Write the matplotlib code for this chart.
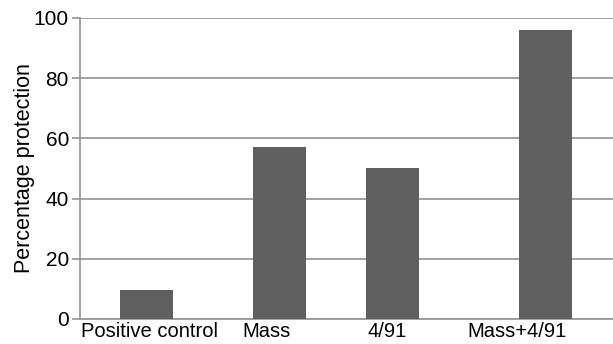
import matplotlib.pyplot as plt

plt.rcParams['font.family'] = ['Liberation Sans', 'DejaVu Sans']

groups = ["Positive control", "Mass", "4/91", "Mass+4/91"]
protection = [9.6, 57.1, 50.2, 96.1]

# bar and label placement (the original spacing is uneven)
bar_pos = [0, 1, 1.85, 3]
label_pos = [0.02, 0.9, 1.81, 2.79]

grey = "#9a9a9a"
fig = plt.figure(figsize=(6.13, 3.44), dpi=100)
ax = fig.add_axes([0.1305, 0.0727, 0.8695, 0.875])

ax.bar(bar_pos, protection, width=0.4, color="#5f5f60", zorder=3)

ax.set_xlim(-0.5, 3.51)
ax.set_ylim(0, 100)
ax.set_yticks([0, 20, 40, 60, 80, 100])
ax.set_xticks(label_pos)
ax.set_xticklabels(groups)
ax.tick_params(axis='x', length=0, labelsize=14.5, pad=2)
ax.tick_params(axis='y', length=6, width=1.3, color=grey, labelsize=15, pad=2)
ax.grid(axis='y', color=grey, linewidth=1.3, zorder=0)
for s in ['top', 'right']:
    ax.spines[s].set_visible(False)
for s in ['left', 'bottom']:
    ax.spines[s].set_color(grey)
    ax.spines[s].set_linewidth(1.3)
ax.set_ylabel("Percentage protection", fontsize=15.5, labelpad=-1)

plt.savefig("out.png", dpi=100)
